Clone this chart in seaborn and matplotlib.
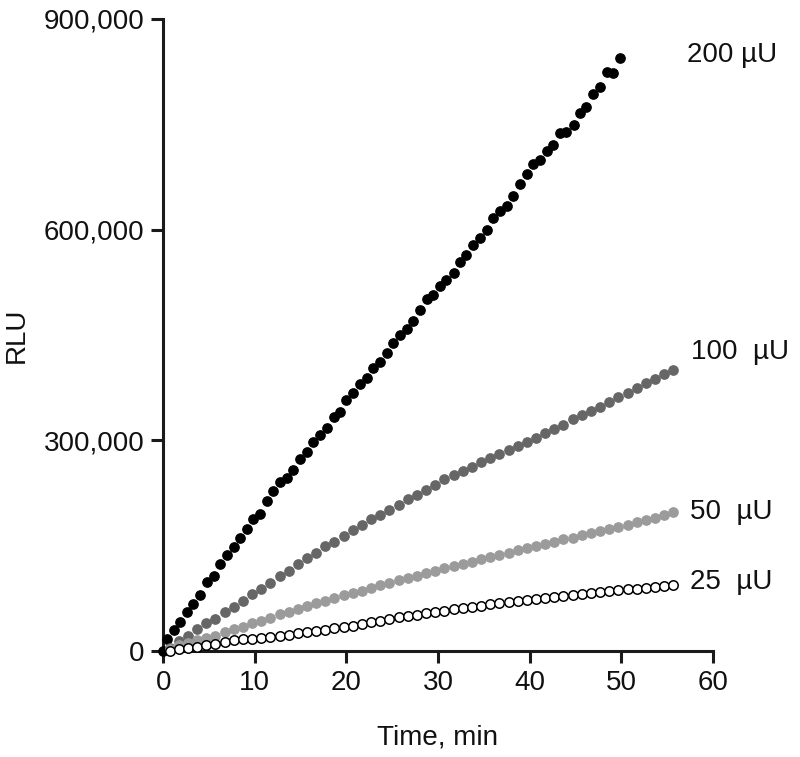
import matplotlib
matplotlib.use("Agg")
import matplotlib.pyplot as plt
from matplotlib.ticker import FuncFormatter
import seaborn as sns
import numpy as np

# Time points (min) and RLU readings (thousands)
t_200 = [0, 0.4, 1.13, 1.85, 2.58, 3.3, 4.04, 4.76, 5.5, 6.22, 6.95, 7.68, 8.4, 9.13,
         9.85, 10.57, 11.3, 12.0, 12.76, 13.5, 14.2, 14.9, 15.7, 16.4, 17.1, 17.9,
         18.6, 19.3, 20.0, 20.7, 21.5, 22.2, 22.9, 23.7, 24.4, 25.1, 25.85, 26.6,
         27.3, 28.05, 28.8, 29.5, 30.2, 30.9, 31.7, 32.4, 33.1, 33.85, 34.6, 35.3,
         36.0, 36.8, 37.5, 38.2, 38.9, 39.7, 40.4, 41.1, 41.9, 42.6, 43.3, 44.0,
         44.8, 45.5, 46.2, 46.9, 47.7, 48.4, 49.1, 49.85]
rlu_200 = [0, 16.7, 29.9, 41.7, 55.1, 66.9, 79.7, 98.7, 107, 123.4, 136.7, 148.5, 160.5,
           173.7, 187.5, 195, 213.6, 228, 240, 247, 257.7, 273, 283, 297, 307.6, 317,
           333.7, 340, 357.4, 367.8, 379.8, 388.3, 402.6, 412, 424, 438, 450, 458, 470,
           486, 500.8, 507, 520, 528, 538, 554, 564, 578, 588, 600, 616, 626.5, 634,
           648, 664.6, 679, 693.5, 699, 712, 720, 738, 739.5, 749, 765.7, 774, 792.7,
           802.7, 825, 823.5, 844]

# the three lower doses were read every minute
t_low = [0.7, 1.7, 2.7, 3.7, 4.7, 5.7, 6.7, 7.7, 8.7, 9.7, 10.7, 11.7, 12.7, 13.7,
         14.7, 15.7, 16.7, 17.7, 18.7, 19.7, 20.7, 21.7, 22.7, 23.7, 24.7, 25.7, 26.7,
         27.7, 28.7, 29.7, 30.7, 31.7, 32.7, 33.7, 34.7, 35.7, 36.7, 37.7, 38.7, 39.7,
         40.7, 41.7, 42.7, 43.7, 44.7, 45.7, 46.7, 47.7, 48.7, 49.7, 50.7, 51.7, 52.7,
         53.7, 54.7, 55.7]
rlu_100 = [4, 14.7, 21.4, 30.9, 39.4, 45.6, 55, 62.2, 71.6, 81.2, 88.3, 97, 106.8, 114.4,
           124, 132, 140, 149.5, 155.6, 163.8, 172.3, 179.4, 187.5, 193.7, 200.8, 208,
           216, 222, 229, 236, 244.5, 250.6, 256.5, 262.5, 268.5, 274.5, 280.5, 286.5,
           292, 298, 304, 310, 316, 322, 331, 336, 342, 348, 355, 362, 368, 374, 381,
           387, 394, 400]
rlu_50 = [2.4, 8, 12, 15.7, 18, 21.4, 26.6, 30.9, 33.7, 39.4, 42.7, 46.6, 52.2, 56,
          59.4, 64, 68, 71, 75, 79.7, 83, 86, 89.3, 94, 96.4, 101, 103.5, 107, 111.5,
          114.3, 117.8, 121, 124.2, 127.4, 130.6, 133.8, 137, 140.2, 143.4, 146.6,
          149.8, 153, 155.6, 159, 160.5, 165, 168.5, 171, 173.7, 177, 179.4, 183,
          186.5, 189, 193.7, 198]
rlu_25 = [0.5, 2.4, 3.8, 6, 8.5, 10.5, 13, 15, 16.5, 17, 18.3, 19.6, 21.4, 22.8, 25.2,
          27, 29, 30, 32.3, 34.6, 36, 38.4, 40.8, 43.2, 45, 48, 49.8, 51.3, 53.7, 56,
          57.4, 59.5, 61.3, 63, 64.7, 66.4, 68.1, 69.8, 71.4, 73, 74.6, 76.1, 77.5,
          78.9, 80.2, 81.5, 82.8, 84.1, 85.4, 86.6, 87.8, 89, 90.2, 91.4, 92.6, 94]

labels = ["200 µU", "100  µU", "50  µU", "25  µU"]
label_pos = [(57.2, 849), (57.6, 426), (57.5, 198), (57.5, 98)]
x_ticks = [0, 10, 20, 30, 40, 50, 60]
y_ticks = [0, 300000, 600000, 900000]

sns.set_style("ticks")
plt.rcParams['font.family'] = ['Liberation Sans', 'DejaVu Sans']
plt.rcParams['text.color'] = '#111111'
plt.rcParams['axes.labelcolor'] = '#111111'
plt.rcParams['xtick.color'] = '#1a1a1a'
plt.rcParams['ytick.color'] = '#1a1a1a'
plt.rcParams['xtick.labelcolor'] = '#111111'
plt.rcParams['ytick.labelcolor'] = '#111111'

fig = plt.figure(figsize=(8, 7.57), dpi=100)
ax = fig.add_axes([0.204, 0.14, 0.687, 0.835])

series = [
    (t_200, rlu_200, "black", "black", 0.9),
    (t_low, rlu_100, "#666666", "#666666", 0.9),
    (t_low, rlu_50, "#9b9b9b", "#9b9b9b", 0.9),
    (t_low, rlu_25, "white", "black", 1.1),
]
for t, v, fill, edge, lw in series:
    sns.scatterplot(x=np.array(t), y=np.array(v) * 1000, ax=ax, color=fill,
                    edgecolor=edge, linewidth=lw, s=46, clip_on=False, zorder=3)

for lab, (lx, ly) in zip(labels, label_pos):
    ax.text(lx, ly * 1000, lab, fontsize=20, ha="left", va="center", clip_on=False)

ax.set_xlim(0, 60)
ax.set_ylim(0, 900000)
ax.set_xticks(x_ticks)
ax.set_yticks(y_ticks)
ax.yaxis.set_major_formatter(FuncFormatter(lambda v, p: f"{v:,.0f}"))
ax.tick_params(axis="both", labelsize=20, width=2.2, length=8.5, pad=5)
ax.set_xlabel("Time, min", fontsize=20, labelpad=21)
ax.set_ylabel("RLU", fontsize=20, labelpad=10)
for side in ["left", "bottom"]:
    ax.spines[side].set_linewidth(2.2)
    ax.spines[side].set_color("#1a1a1a")
sns.despine(ax=ax)

fig.savefig("out.png", dpi=100)
